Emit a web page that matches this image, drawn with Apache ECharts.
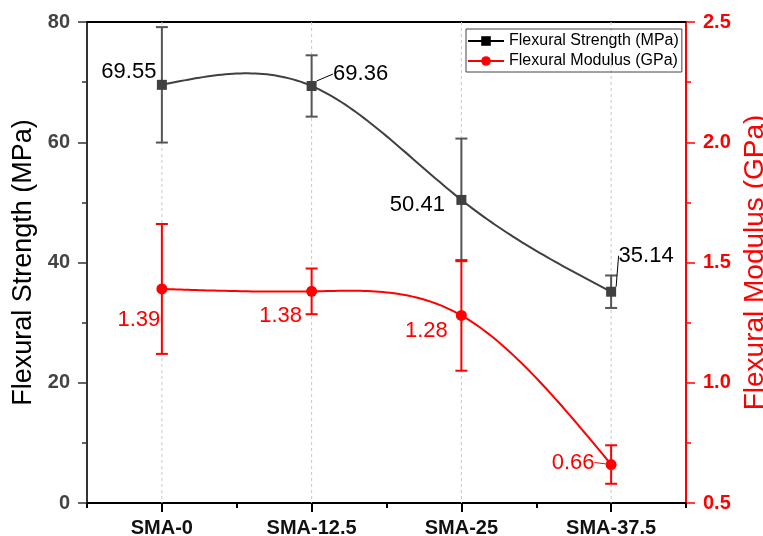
<!DOCTYPE html>
<html><head><meta charset="utf-8">
<script src="https://cdn.jsdelivr.net/npm/echarts@6/dist/echarts.min.js"></script>
<style>html,body{margin:0;padding:0;background:#fff}#c{width:763px;height:536px}</style>
</head><body><div id="c"></div>
<script>
const categories = ['SMA-0', 'SMA-12.5', 'SMA-25', 'SMA-37.5'];
const strength = [69.55, 69.36, 50.41, 35.14];
const strengthErr = [9.6, 5.1, 10.2, 2.7];
const modulus = [1.39, 1.38, 1.28, 0.66];
const modulusErr = [0.27, 0.095, 0.23, 0.08];
const leftTicks = [0, 20, 40, 60, 80];
const rightTicks = [0.5, 1.0, 1.5, 2.0, 2.5];

const FONT = "'Liberation Sans', Arial, sans-serif";
const GRAY = '#404040';
const RED = '#ff0000';

function splineM(ys) {
  const n = ys.length, M = new Array(n).fill(0);
  if (n < 3) return M;
  const a = [], b = [], c = [], d = [];
  for (let i = 1; i < n - 1; i++) { a.push(1); b.push(4); c.push(1); d.push(6 * (ys[i - 1] - 2 * ys[i] + ys[i + 1])); }
  const m = d.length;
  for (let i = 1; i < m; i++) { const w = a[i] / b[i - 1]; b[i] -= w * c[i - 1]; d[i] -= w * d[i - 1]; }
  const x = new Array(m);
  x[m - 1] = d[m - 1] / b[m - 1];
  for (let i = m - 2; i >= 0; i--) x[i] = (d[i] - c[i] * x[i + 1]) / b[i];
  for (let i = 0; i < m; i++) M[i + 1] = x[i];
  return M;
}
function splineSeries(ys, color, yAxisIndex) {
  const M = splineM(ys);
  return {
    type: 'custom', yAxisIndex: yAxisIndex, silent: true, z: 3,
    data: ys.map((v, i) => [i, v]), encode: { x: 0, y: 1 },
    renderItem: function (params, api) {
      const i = params.dataIndex;
      if (i >= ys.length - 1) return null;
      const xa = api.coord([i, ys[i]])[0], xb = api.coord([i + 1, ys[i + 1]])[0];
      const pts = [];
      for (let k = 0; k <= 40; k++) {
        const t = k / 40, s = 1 - t;
        const v = s * ys[i] + t * ys[i + 1] + ((s * s * s - s) * M[i] + (t * t * t - t) * M[i + 1]) / 6;
        pts.push([xa + (xb - xa) * t, api.coord([i, v])[1]]);
      }
      return { type: 'polyline', shape: { points: pts }, style: { stroke: color, lineWidth: 2, fill: null } };
    }
  };
}
function errSeries(ys, errs, color, yAxisIndex, z) {
  return {
    type: 'custom', yAxisIndex: yAxisIndex, silent: true, z: z,
    data: ys.map((v, i) => [i, v - errs[i], v + errs[i]]), encode: { x: 0, y: [1, 2] },
    renderItem: function (params, api) {
      const lo = api.coord([api.value(0), api.value(1)]);
      const hi = api.coord([api.value(0), api.value(2)]);
      const st = { stroke: color, lineWidth: 2 };
      return { type: 'group', children: [
        { type: 'line', shape: { x1: lo[0], y1: lo[1], x2: hi[0], y2: hi[1] }, style: st },
        { type: 'line', shape: { x1: lo[0] - 6, y1: lo[1], x2: lo[0] + 6, y2: lo[1] }, style: st },
        { type: 'line', shape: { x1: hi[0] - 6, y1: hi[1], x2: hi[0] + 6, y2: hi[1] }, style: st }
      ]};
    }
  };
}
const gridLines = {
  type: 'custom', silent: true, z: 1,
  data: categories.map((c, i) => [i, 0]), encode: { x: 0, y: 1 },
  renderItem: function (params, api) {
    const x = api.coord([api.value(0), 0])[0];
    const cs = params.coordSys;
    return { type: 'line', shape: { x1: x, y1: cs.y, x2: x, y2: cs.y + cs.height },
      style: { stroke: '#c8c8c8', lineWidth: 1, lineDash: [3, 3] } };
  }
};

const strengthOffsets = [[-33, -13], [49, -12], [-44, 5], [35, -36]];
const modulusOffsets = [[-23, 31], [-31, 25], [-35, 16], [-38, -2]];
const strengthLeader = [false, true, false, true];
const modulusLeader = [false, false, false, true];

function markerSeries(name, ys, yAxisIndex, symbol, size, color, labelColor, offsets, leaders) {
  return {
    name: name, type: 'line', yAxisIndex: yAxisIndex, z: 5,
    symbol: symbol, symbolSize: size, showSymbol: true,
    itemStyle: { color: color },
    lineStyle: { width: 0, opacity: 0 },
    data: ys.map((v, i) => ({
      value: v,
      labelLine: { show: leaders[i], lineStyle: { color: labelColor, width: 1 }, length2: 0 }
    })),
    label: { show: true, position: 'inside', formatter: p => ys[p.dataIndex].toFixed(2),
      color: labelColor, fontFamily: FONT, fontSize: 22 },
    labelLayout: function (p) { const o = offsets[p.dataIndex]; return { dx: o[0], dy: o[1] }; }
  };
}

const chart = echarts.init(document.getElementById('c'), null, { renderer: 'canvas' });
chart.setOption({
  animation: false,
  backgroundColor: '#fff',
  grid: { left: 87, right: 77, top: 22, bottom: 33, containLabel: false, outerBoundsMode: 'none' },
  legend: {
    orient: 'vertical', left: 466, top: 29,
    padding: [4, 3, 3, 1], itemGap: 4, itemWidth: 36, itemHeight: 12,
    borderColor: '#444', borderWidth: 1,
    textStyle: { fontFamily: FONT, fontSize: 16, color: '#000', lineHeight: 16 },
    data: [
      { name: 'Flexural Strength (MPa)', itemStyle: { color: '#000' }, lineStyle: { width: 2, color: '#000', opacity: 1 } },
      { name: 'Flexural Modulus (GPa)', itemStyle: { color: RED }, lineStyle: { width: 2, color: RED, opacity: 1 } }
    ]
  },
  xAxis: [
    { type: 'category', data: categories, boundaryGap: true, position: 'bottom',
      axisLine: { lineStyle: { color: '#000', width: 2 } },
      axisTick: { show: true, alignWithLabel: false, length: 5, lineStyle: { color: '#000', width: 2 } },
      axisLabel: { fontFamily: FONT, fontSize: 20, fontWeight: 'bold', color: '#111', margin: 15, interval: 0 },
      splitLine: { show: false } },
    { type: 'category', data: categories, boundaryGap: true, position: 'bottom',
      axisLine: { show: false },
      axisTick: { show: true, alignWithLabel: true, length: 9, lineStyle: { color: '#000', width: 2 } },
      axisLabel: { show: false }, splitLine: { show: false } },
    { type: 'category', data: categories, boundaryGap: true, position: 'top',
      axisLine: { show: true, lineStyle: { color: '#000', width: 2 } },
      axisTick: { show: false }, axisLabel: { show: false }, splitLine: { show: false } }
  ],
  yAxis: [
    { type: 'value', min: leftTicks[0], max: leftTicks[leftTicks.length - 1], interval: leftTicks[1] - leftTicks[0],
      position: 'left',
      name: 'Flexural Strength (MPa)', nameLocation: 'middle', nameGap: 44, nameRotate: 90,
      nameTextStyle: { fontFamily: FONT, fontSize: 27, color: '#000' },
      axisLine: { show: true, lineStyle: { color: '#333', width: 2 } },
      axisTick: { show: true, length: 9, lineStyle: { color: '#333', width: 1.5 } },
      minorTick: { show: true, splitNumber: 2, length: 5, lineStyle: { color: '#333', width: 1.5 } },
      axisLabel: { fontFamily: FONT, fontSize: 20, fontWeight: 'bold', color: '#444', margin: 17 },
      splitLine: { show: false } },
    { type: 'value', min: rightTicks[0], max: rightTicks[rightTicks.length - 1], interval: rightTicks[1] - rightTicks[0],
      position: 'right',
      name: 'Flexural Modulus (GPa)', nameLocation: 'middle', nameGap: 42, nameRotate: 90,
      nameTextStyle: { fontFamily: FONT, fontSize: 28, color: RED },
      axisLine: { show: true, lineStyle: { color: RED, width: 2 } },
      axisTick: { show: true, length: 9, lineStyle: { color: RED, width: 1.5 } },
      minorTick: { show: true, splitNumber: 2, length: 5, lineStyle: { color: RED, width: 1.5 } },
      axisLabel: { fontFamily: FONT, fontSize: 20, fontWeight: 'bold', color: RED, margin: 17,
        formatter: v => v.toFixed(1) },
      splitLine: { show: false } }
  ],
  series: [
    gridLines,
    errSeries(strength, strengthErr, '#555', 0, 2),
    errSeries(modulus, modulusErr, RED, 1, 2),
    splineSeries(strength, GRAY, 0),
    splineSeries(modulus, RED, 1),
    markerSeries('Flexural Strength (MPa)', strength, 0, 'rect', 10, GRAY, '#000', strengthOffsets, strengthLeader),
    markerSeries('Flexural Modulus (GPa)', modulus, 1, 'circle', 11, RED, RED, modulusOffsets, modulusLeader)
  ]
});
</script></body></html>
